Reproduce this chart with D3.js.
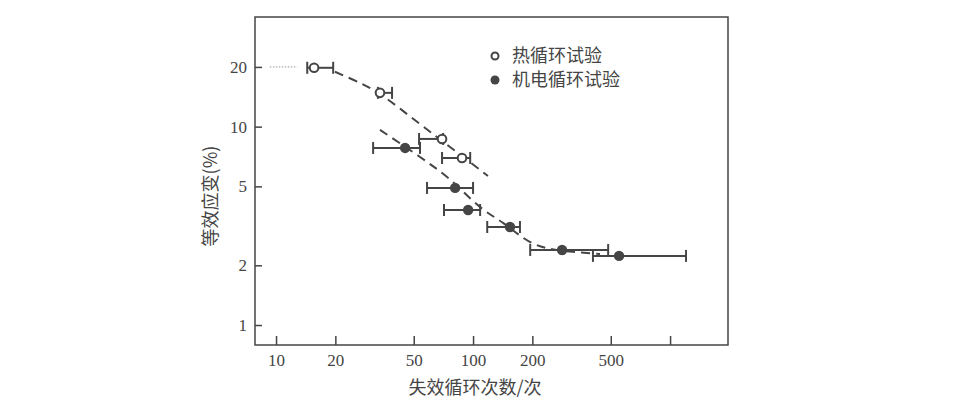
<!DOCTYPE html>
<html>
<head>
<meta charset="utf-8">
<script src="https://cdn.jsdelivr.net/npm/d3@7"></script>
<style>
  body { margin: 0; background: #fff; }
  svg { display: block; }
</style>
</head>
<body>
<svg></svg>
<script>
// tick values
var xTicks = [10, 20, 50, 100, 200, 500, 1000];
var xTickLabels = ["10", "20", "50", "100", "200", "500", ""];
var yTicks = [1, 2, 5, 10, 20];

// thermal cycling (open circles): cycles, strain, error low/high
var thermCycles = [15.6, 33.7, 69.6, 87.9];
var thermStrain = [19.8, 14.8, 8.67, 6.95];
var thermLo     = [14.4, 32.9, 53.2, 69.6];
var thermHi     = [19.5, 38.8, 70.5, 96.7];

// electromechanical cycling (filled circles)
var emCycles = [45.2, 81.1, 94.4, 154, 283, 551];
var emStrain = [7.81, 4.91, 3.80, 3.12, 2.39, 2.23];
var emLo     = [31.1, 58.4, 71.2, 118, 195, 406];
var emHi     = [53.8, 100, 108.6, 173, 485, 1205];

// dashed fit curves
var thermFitX = [19.9, 26.7, 33.7, 53.8, 76.4, 119];
var thermFitY = [18.9, 16.6, 14.6, 10.3, 7.9, 5.64];
var emFitX = [33.7, 53.8, 73.8, 108.6, 142, 195, 246, 441];
var emFitY = [9.63, 7.03, 5.58, 3.93, 3.27, 2.62, 2.42, 2.28];

// dotted lead-in at 20%
var leadX = [9.3, 12.8];
var leadY = [20, 20];

var legendNames = ["热循环试验", "机电循环试验"];

var margin = {left: 255, right: 226, top: 17, bottom: 56};
var width = 473, height = 328;
var ink = "#454545";

var svg = d3.select("svg")
  .attr("width", 954)
  .attr("height", 401);

var x = d3.scaleLog().domain([7.82, 1968]).range([0, width]);
var y = d3.scaleLog().domain([0.793, 35.7]).range([height, 0]);

var g = svg.append("g")
  .attr("transform", "translate(" + margin.left + "," + margin.top + ")");

// axes, ticks pointing inward
var xAxis = d3.axisBottom(x)
  .tickValues(xTicks)
  .tickFormat(function(d, i){ return xTickLabels[i]; })
  .tickSizeInner(-9).tickSizeOuter(0).tickPadding(7);

var yAxis = d3.axisLeft(y)
  .tickValues(yTicks)
  .tickFormat(d3.format("d"))
  .tickSizeInner(-7).tickSizeOuter(0).tickPadding(8);

var gx = g.append("g")
  .attr("transform", "translate(0," + height + ")")
  .call(xAxis);
var gy = g.append("g").call(yAxis);

[gx, gy].forEach(function(a){
  a.select(".domain").remove();
  a.selectAll(".tick line").attr("stroke", ink).attr("stroke-width", 1.5);
  a.selectAll(".tick text")
    .attr("fill", ink)
    .style("font-family", "'Liberation Serif', 'DejaVu Serif', serif")
    .style("font-size", "17px");
});
gx.selectAll(".tick text").attr("dy", "0.85em");

// frame
g.append("rect")
  .attr("width", width).attr("height", height)
  .attr("fill", "none").attr("stroke", ink).attr("stroke-width", 1.5);

// dotted lead-in line
g.append("line")
  .attr("x1", x(leadX[0])).attr("x2", x(leadX[1]))
  .attr("y1", y(leadY[0])).attr("y2", y(leadY[1]))
  .attr("stroke", "#999").attr("stroke-width", 1)
  .attr("stroke-dasharray", "1.5,1.5");

// fit curves
var line = d3.line()
  .x(function(d){ return x(d[0]); })
  .y(function(d){ return y(d[1]); })
  .curve(d3.curveCatmullRom);

[[thermFitX, thermFitY], [emFitX, emFitY]].forEach(function(c){
  g.append("path")
    .datum(d3.zip(c[0], c[1]))
    .attr("d", line)
    .attr("fill", "none")
    .attr("stroke", ink)
    .attr("stroke-width", 2)
    .attr("stroke-dasharray", "9,6");
});

// error bars
function errorBars(cycles, strain, lo, hi){
  var data = d3.range(cycles.length).map(function(i){
    return {x: cycles[i], y: strain[i], lo: lo[i], hi: hi[i]};
  });
  var eb = g.append("g").selectAll("g").data(data).enter().append("g")
    .attr("stroke", ink).attr("stroke-width", 2);
  eb.append("line")
    .attr("x1", function(d){ return x(d.lo); })
    .attr("x2", function(d){ return x(d.hi); })
    .attr("y1", function(d){ return y(d.y); })
    .attr("y2", function(d){ return y(d.y); });
  ["lo", "hi"].forEach(function(k){
    eb.append("line")
      .attr("x1", function(d){ return x(d[k]); })
      .attr("x2", function(d){ return x(d[k]); })
      .attr("y1", function(d){ return y(d.y) - 6; })
      .attr("y2", function(d){ return y(d.y) + 6; });
  });
  return data;
}

var thermData = errorBars(thermCycles, thermStrain, thermLo, thermHi);
var emData = errorBars(emCycles, emStrain, emLo, emHi);

g.append("g").selectAll("circle").data(thermData).enter().append("circle")
  .attr("cx", function(d){ return x(d.x); })
  .attr("cy", function(d){ return y(d.y); })
  .attr("r", 4.3)
  .attr("fill", "#fff").attr("stroke", ink).attr("stroke-width", 2);

g.append("g").selectAll("circle").data(emData).enter().append("circle")
  .attr("cx", function(d){ return x(d.x); })
  .attr("cy", function(d){ return y(d.y); })
  .attr("r", 5.2)
  .attr("fill", ink);

// legend
var legend = g.append("g").attr("transform", "translate(240,39)");
legendNames.forEach(function(name, i){
  var row = legend.append("g").attr("transform", "translate(0," + (i * 24) + ")");
  row.append("circle")
    .attr("r", i == 0 ? 3.5 : 4.5)
    .attr("fill", i == 0 ? "#fff" : ink)
    .attr("stroke", ink).attr("stroke-width", i == 0 ? 2 : 0);
  row.append("text")
    .attr("x", 17).attr("dy", "0.36em")
    .attr("fill", ink)
    .style("font-family", "'Noto Sans CJK SC', sans-serif")
    .style("font-size", "18px")
    .text(name);
});

// axis titles
svg.append("text")
  .attr("x", margin.left + 220).attr("y", 394)
  .attr("text-anchor", "middle")
  .attr("fill", ink)
  .style("font-family", "'Noto Sans CJK SC', sans-serif")
  .style("font-size", "18px")
  .text("失效循环次数/次");

svg.append("text")
  .attr("transform", "translate(217,196) rotate(-90)")
  .attr("text-anchor", "middle")
  .attr("fill", ink)
  .style("font-family", "'Noto Sans CJK SC', sans-serif")
  .style("font-size", "18px")
  .text("等效应变(%)");
</script>
</body>
</html>
